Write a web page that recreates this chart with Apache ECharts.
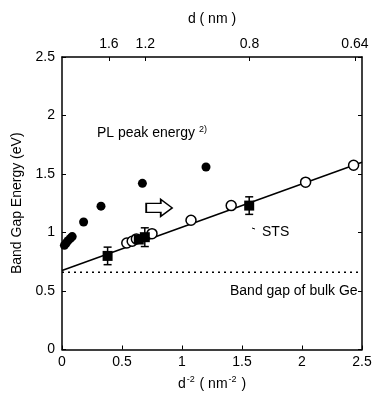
<!DOCTYPE html>
<html>
<head>
<meta charset="utf-8">
<script src="https://cdn.jsdelivr.net/npm/echarts@6/dist/echarts.min.js"></script>
<style>
  html, body { margin: 0; padding: 0; background: #fff; }
  #chart { width: 376px; height: 396px; }
</style>
</head>
<body>
<div id="chart"></div>
<script>
// PL peak energy (filled circles)
const plX = [0.02, 0.035, 0.05, 0.07, 0.085, 0.18, 0.325, 0.67, 1.2];
const plY = [0.89, 0.91, 0.93, 0.95, 0.965, 1.09, 1.225, 1.42, 1.56];
// open circles
const openX = [0.54, 0.585, 0.62, 0.75, 1.075, 1.41, 2.03, 2.43];
const openY = [0.91, 0.925, 0.945, 0.99, 1.105, 1.23, 1.43, 1.575];
// STS (filled squares) with error bars
const stsX = [0.38, 0.64, 0.69, 1.56];
const stsY = [0.80, 0.94, 0.96, 1.23];
const stsErr = [0.075, 0, 0.08, 0.075];
// fit line + bulk Ge gap
const fitX = [0, 2.5];
const fitY = [0.675, 1.6];
const bulkGap = 0.66;
// arrow marker
const arrowPt = [0.81, 1.21];
// axis ticks
const bottomTicks = [0, 0.5, 1, 1.5, 2, 2.5];
const leftTicks = [0, 0.5, 1, 1.5, 2, 2.5];
const topLabels = ["1.6", "1.2", "0.8", "0.64"];
const topPos = topLabels.map((d) => 1 / (parseFloat(d) * parseFloat(d)));

const FONT = "Liberation Sans";
const black = "#000";

const chartDom = document.getElementById("chart");
const myChart = echarts.init(chartDom);

const option = {
  animation: false,
  textStyle: { fontFamily: FONT },
  grid: { left: 62, right: 14, top: 57, bottom: 45 },
  xAxis: [
    {
      type: "value",
      min: 0,
      max: 2.5,
      interval: 0.5,
      position: "bottom",
      name: "d{s|-2} ( nm{s|-2} )",
      nameLocation: "middle",
      nameGap: 26,
      nameTextStyle: {
        fontSize: 14,
        color: black,
        fontFamily: FONT,
        rich: { s: { fontSize: 9, padding: [0, 1, 8, 1], color: black, fontFamily: FONT } },
      },
      axisLine: { onZero: false, lineStyle: { color: black, width: 1.5 } },
      axisTick: { inside: true, length: 4, lineStyle: { color: black } },
      axisLabel: {
        color: black,
        fontSize: 14,
        margin: 6,
        fontFamily: FONT,
        formatter: (v) => (bottomTicks.includes(v) ? String(v) : ""),
      },
      splitLine: { show: false },
    },
    {
      type: "value",
      min: 0,
      max: 2.5,
      position: "top",
      name: "d ( nm )",
      nameLocation: "middle",
      nameGap: 31,
      nameTextStyle: { fontSize: 14, color: black, fontFamily: FONT },
      axisLine: { onZero: false, lineStyle: { color: black, width: 1.5 } },
      axisTick: { inside: true, length: 4, customValues: topPos, lineStyle: { color: black } },
      axisLabel: {
        color: black,
        fontSize: 14,
        margin: 6,
        fontFamily: FONT,
        customValues: topPos,
        formatter: function (v) {
          const i = topPos.findIndex((p) => Math.abs(p - v) < 1e-6);
          return i >= 0 ? topLabels[i] : "";
        },
      },
      splitLine: { show: false },
    },
  ],
  yAxis: [
    {
      type: "value",
      min: 0,
      max: 2.5,
      interval: 0.5,
      name: "Band Gap Energy (eV)",
      nameLocation: "middle",
      nameRotate: 90,
      nameGap: 37,
      nameTextStyle: { fontSize: 14, color: black, fontFamily: FONT },
      axisLine: { show: true, onZero: false, lineStyle: { color: black, width: 1.5 } },
      axisTick: { show: true, inside: true, length: 4, lineStyle: { color: black } },
      axisLabel: {
        color: black,
        fontSize: 14,
        margin: 7,
        fontFamily: FONT,
        formatter: (v) => (leftTicks.includes(v) ? String(v) : ""),
      },
      splitLine: { show: false },
    },
    {
      type: "value",
      min: 0,
      max: 2.5,
      interval: 0.5,
      position: "right",
      axisLine: { show: true, onZero: false, lineStyle: { color: black, width: 1.5 } },
      axisTick: { show: true, inside: true, length: 4, lineStyle: { color: black } },
      axisLabel: { show: false },
      splitLine: { show: false },
    },
  ],
  series: [
    {
      name: "bulk",
      type: "line",
      data: fitX.map((x) => [x, bulkGap]),
      showSymbol: false,
      lineStyle: { color: black, width: 1.5, type: [2, 4] },
      z: 1,
    },
    {
      name: "fit",
      type: "line",
      data: fitX.map((x, i) => [x, fitY[i]]),
      showSymbol: false,
      lineStyle: { color: black, width: 1.5 },
      z: 2,
    },
    {
      name: "PL",
      type: "scatter",
      symbol: "circle",
      symbolSize: 9,
      data: plX.map((x, i) => [x, plY[i]]),
      itemStyle: { color: black, opacity: 1 },
      z: 3,
    },
    {
      name: "open",
      type: "scatter",
      symbol: "circle",
      symbolSize: 10,
      data: openX.map((x, i) => [x, openY[i]]),
      itemStyle: { color: "#fff", borderColor: black, borderWidth: 1.5, opacity: 1 },
      z: 3,
    },
    {
      name: "errbar",
      type: "custom",
      data: stsX.map((x, i) => [x, stsY[i] - stsErr[i], stsY[i] + stsErr[i]]).filter((d) => d[2] - d[1] > 0),
      renderItem: function (params, api) {
        const x = api.value(0);
        const a = api.coord([x, api.value(2)]);
        const b = api.coord([x, api.value(1)]);
        const w = 4;
        const st = { stroke: black, lineWidth: 1.5 };
        return {
          type: "group",
          children: [
            { type: "line", shape: { x1: a[0], y1: a[1], x2: b[0], y2: b[1] }, style: st },
            { type: "line", shape: { x1: a[0] - w, y1: a[1], x2: a[0] + w, y2: a[1] }, style: st },
            { type: "line", shape: { x1: b[0] - w, y1: b[1], x2: b[0] + w, y2: b[1] }, style: st },
          ],
        };
      },
      z: 4,
    },
    {
      name: "STS",
      type: "scatter",
      symbol: "rect",
      symbolSize: 10,
      data: stsX.map((x, i) => [x, stsY[i]]),
      itemStyle: { color: black, opacity: 1 },
      z: 5,
    },
    {
      name: "arrow",
      type: "scatter",
      symbol: "path://M0,4 L14,4 L14,0 L25,8.5 L14,17 L14,13 L0,13 Z",
      symbolSize: [26, 17],
      data: [arrowPt],
      itemStyle: { color: "#fff", borderColor: black, borderWidth: 1.5, opacity: 1 },
      z: 5,
    },
  ],
  graphic: [
    {
      type: "text",
      left: 97,
      top: 125,
      style: {
        text: "PL peak energy {s|2)}",
        fontSize: 14,
        fontFamily: FONT,
        fill: black,
        rich: { s: { fontSize: 9, padding: [0, 0, 8, 0], fontFamily: FONT, fill: black } },
      },
    },
    {
      type: "text",
      left: 262,
      top: 225,
      style: { text: "STS", fontSize: 14, fontFamily: FONT, fill: black },
    },
    {
      type: "line",
      shape: { x1: 252, y1: 228, x2: 255, y2: 229 },
      style: { stroke: black, lineWidth: 1 },
    },
    {
      type: "text",
      left: 230,
      top: 284,
      style: { text: "Band gap of bulk Ge", fontSize: 14, fontFamily: FONT, fill: black },
    },
  ],
};

option && myChart.setOption(option);
</script>
</body>
</html>
